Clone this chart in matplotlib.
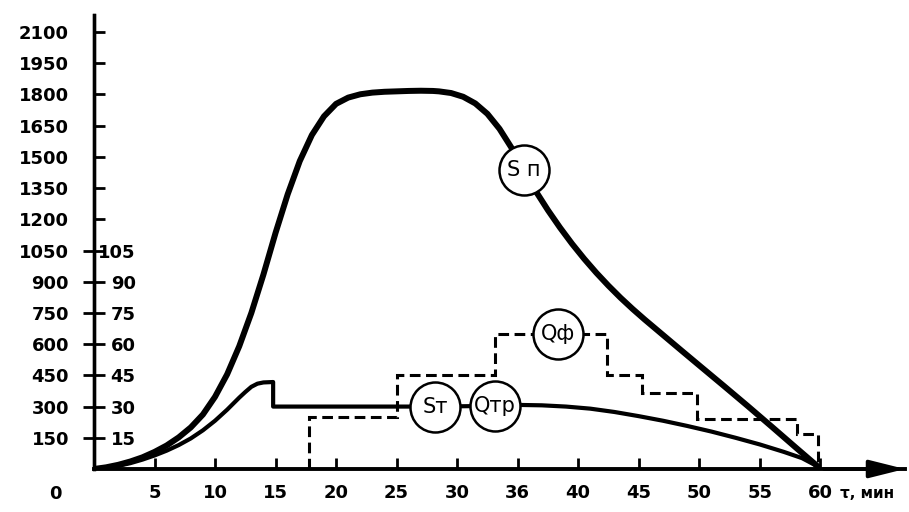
import numpy as np
import matplotlib
matplotlib.use("Agg")
import matplotlib.pyplot as plt

# ---- data ----
# S_n curve
sn_t = [0, 1, 2, 3, 4, 5, 6, 7, 8, 9, 10, 11, 12, 13, 14, 15, 16, 17, 18, 19, 20, 21,
        22, 23, 24, 25, 26, 27, 28, 28.5, 29.5, 30.5, 31.5, 32.5, 33.5, 34.5, 35.5, 36.5,
        37.5, 38.5, 39.5, 40.5, 41.5, 42.5, 43.5, 44.5, 45.5, 46.5, 47.5, 48.5, 50, 52,
        54, 56, 58, 59.8]
sn_s = [0, 8, 20, 36, 56, 82, 113, 152, 200, 262, 347, 455, 590, 750, 935, 1135, 1320,
        1480, 1605, 1695, 1755, 1785, 1801, 1809, 1813, 1815, 1817, 1818, 1817, 1815,
        1807, 1789, 1757, 1707, 1635, 1543, 1439, 1335, 1244, 1160, 1082, 1010, 943, 881,
        823, 769, 718, 669, 620, 571, 498, 401, 303, 203, 102, 12]
# S_t curve
st_t = [0, 1, 2, 3, 4, 5, 6, 7, 8, 9, 10, 11, 12, 12.5, 13, 13.5, 14, 14.8, 14.8, 18,
        22, 25, 28, 31, 33, 35, 37, 39, 41, 43, 45, 47, 49, 51, 53, 55, 57, 58.5, 59.8]
st_s = [0, 6, 15, 28, 45, 65, 88, 115, 147, 186, 232, 285, 343, 370, 395, 410, 416, 418,
        300, 300, 300, 300, 300, 302, 305, 308, 306, 300, 290, 274, 254, 232, 207, 180,
        150, 118, 82, 52, 12]
# Q_f stepped series (secondary scale)
qf_edges = [17.8, 25, 33.1, 42.4, 45.3, 49.8, 58.1, 59.8]
qf_levels = [25, 45, 65, 45, 36.5, 24, 17]

x_ticks = [5, 10, 15, 20, 25, 30, 35, 40, 45, 50, 55, 60]
x_tick_labels = ["5", "10", "15", "20", "25", "30", "36", "40", "45", "50", "55", "60"]
s_ticks = [150, 300, 450, 600, 750, 900, 1050, 1200, 1350, 1500, 1650, 1800, 1950, 2100]
q_ticks = [15, 30, 45, 60, 75, 90, 105]

circle_labels = ["S п", "Sт", "Qтр"]
circle_t = [35.5, 28.2, 33.1]
circle_series = ["sn", "st", "st"]
qf_label = "Qф"
qf_label_t = 38.3

# ---- figure ----
fig = plt.figure(figsize=(9.09, 5.12), dpi=100)
fig.patch.set_facecolor("white")
ax = fig.add_axes([0.1034, 0.084, 0.8922, 0.8867])
ax.set_xlim(0, 67.0)
ax.set_ylim(0, 2182)

ax2 = ax.twinx()
ax2.set_ylim(0, 218.2)
ax.yaxis.tick_left()

lab_font = dict(fontsize=13, fontweight="bold")

# curves
ax.plot(sn_t, sn_s, color="black", lw=4.3, solid_capstyle="round",
        solid_joinstyle="round", zorder=3)
ax.plot(st_t, st_s, color="black", lw=3.0, solid_joinstyle="round", zorder=3)
ax2.stairs(qf_levels, qf_edges, baseline=0, color="black", lw=2.2,
           linestyle=(0, (3.5, 1.8)), zorder=3)

# circled labels
series = {"sn": (sn_t, sn_s), "st": (st_t, st_s)}
for lab, t, key in zip(circle_labels, circle_t, circle_series):
    xs, ys = series[key]
    y = np.interp(t, xs, ys)
    ax.plot([t], [y], "o", ms=36, mfc="white", mec="black", mew=1.8, zorder=5)
    ax.text(t, y, lab, ha="center", va="center", fontsize=15, zorder=6)
edges = np.array(qf_edges)
qy = qf_levels[int(np.searchsorted(edges, qf_label_t) - 1)]
ax2.plot([qf_label_t], [qy], "o", ms=36, mfc="white", mec="black", mew=1.8, zorder=5)
ax2.text(qf_label_t, qy, qf_label, ha="center", va="center", fontsize=15, zorder=6)

# spines
for a in (ax, ax2):
    a.spines["top"].set_visible(False)
ax.spines["right"].set_visible(False)
ax.spines["left"].set_linewidth(2.4)
ax.spines["bottom"].set_linewidth(2.8)
ax2.spines["left"].set_visible(False)
ax2.spines["bottom"].set_visible(False)
ax2.spines["right"].set_position(("axes", 0))
ax2.spines["right"].set_linewidth(2.4)

# ticks
ax.set_xticks(x_ticks, labels=x_tick_labels, **lab_font)
ax.tick_params(axis="x", direction="in", length=8, width=2, pad=11)
ax.set_yticks(s_ticks, labels=[str(v) for v in s_ticks], **lab_font)
ax.tick_params(axis="y", direction="in", length=8, width=2, pad=18)
ax2.set_yticks(q_ticks, labels=[str(v) for v in q_ticks], ha="right", **lab_font)
ax2.tick_params(axis="y", direction="in", length=8, width=2, pad=30)

# origin label and axis name
ax.annotate("0", xy=(0, 0), xytext=(-28, -18), textcoords="offset points",
            ha="center", va="center", **lab_font)
ax.annotate("τ, мин", xy=(60, 0), xytext=(14, -18), textcoords="offset points",
            ha="left", va="center", fontsize=11, fontweight="bold")

# arrow at the end of the time axis
ax.annotate("", xy=(1.0, 0), xytext=(0.9, 0), xycoords="axes fraction",
            arrowprops=dict(arrowstyle="-|>,head_length=1.2,head_width=0.3",
                            lw=2.6, color="black", mutation_scale=18,
                            shrinkA=0, shrinkB=0),
            annotation_clip=False)

fig.savefig("out.png", dpi=100, facecolor="white")
